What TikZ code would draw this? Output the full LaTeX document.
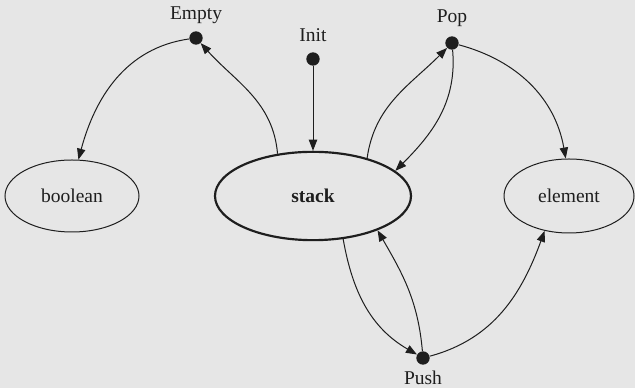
\documentclass[tikz,border=0pt]{standalone}
\usepackage{fontspec}
\setmainfont{Liberation Serif}
\usetikzlibrary{arrows.meta,shapes.geometric}
\definecolor{bg}{HTML}{E6E6E6}
\definecolor{ink}{HTML}{1E1E1E}
\begin{document}
\begin{tikzpicture}[x=0.6pt,y=0.6pt,
  font=\fontsize{11.7}{14}\selectfont,
  dotnode/.style={circle,fill=ink,inner sep=0pt,minimum size=8pt},
  typenode/.style={ellipse,draw=ink,line width=0.6pt,inner sep=0pt,text=ink},
  lbl/.style={inner sep=0pt,text=ink},
  conn/.style={draw=ink,line width=0.6pt,-{Triangle[length=6.6pt,width=5pt]}}]
\fill[bg] (0,0) rectangle (635,388);
\useasboundingbox (0,0) rectangle (635,388);
% type nodes
\node[typenode,minimum width=80.4pt,minimum height=43.2pt] (boolean) at (72,192) {boolean};
\node[typenode,line width=1.3pt,minimum width=117.6pt,minimum height=53pt] (stack) at (313,192) {\bfseries stack};
\node[typenode,minimum width=78pt,minimum height=44.4pt] (element) at (569,192) {element};
% operation dots
\node[dotnode] (empty) at (196,350) {};
\node[dotnode] (init) at (313,329) {};
\node[dotnode] (pop) at (452,345) {};
\node[dotnode] (push) at (423,30) {};
% labels
\node[lbl] (lempty) at (196,373) {Empty};
\node[lbl] (linit) at (313,353) {Init};
\node[lbl] (lpop) at (452,370) {Pop};
\node[lbl] (lpush) at (423,10) {Push};
% connectors
\draw[conn] (stack.130) to[out=95,in=-48] (empty);
\draw[conn] (empty) to[out=188,in=75] (boolean.80);
\draw[conn] (init) -- (stack);
\draw[conn] (stack.35) to[out=82,in=-135] (pop);
\draw[conn] (pop) to[out=-85,in=45] (stack.17);
\draw[conn] (pop) to[out=-15,in=100] (element.95);
\draw[conn] (stack.-55) to[out=-80,in=150] (push);
\draw[conn] (push) to[out=95,in=-60] (stack.-28);
\draw[conn] (push) to[out=15,in=-110] (element.-125);
\end{tikzpicture}
\end{document}
